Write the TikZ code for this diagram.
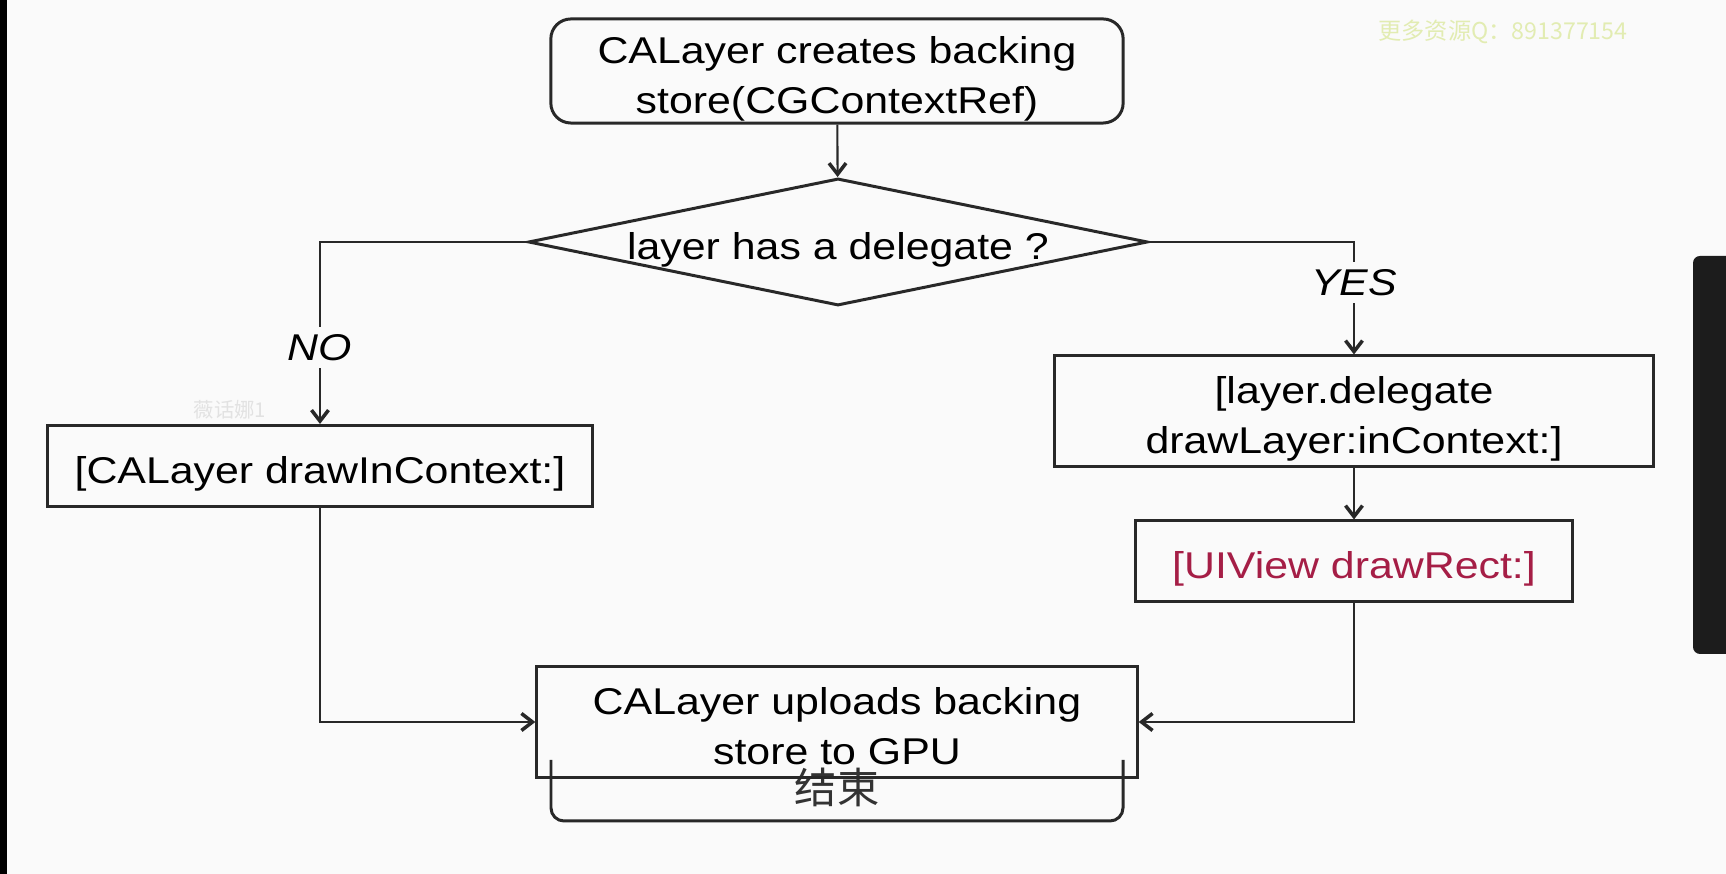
\documentclass[tikz,border=0pt]{standalone}
\usepackage{fontspec}
\usepackage{xcolor}
\usetikzlibrary{shapes.geometric,arrows.meta}
\setmainfont[FakeStretch=1.15]{Liberation Sans}
\newfontfamily\cjk{Noto Sans CJK SC}

\definecolor{bg}{RGB}{250,250,250}
\definecolor{linegrey}{RGB}{40,40,40}
\definecolor{methodred}{RGB}{165,30,70}
\definecolor{wmgreen}{RGB}{226,236,178}
\definecolor{wmgrey}{RGB}{226,226,226}
\definecolor{panel}{RGB}{28,28,28}

\tikzset{
  txt/.style={font=\fontsize{10.6}{14.2}\selectfont, align=center, text=black, text depth=0pt, text height=10.1pt},
  twolines/.style={text height=24.3pt},
  box/.style={txt, draw=linegrey, line width=0.85pt, inner sep=0pt},
  rbox/.style={box, rounded corners=0.2cm},
  decision/.style={txt, diamond, draw=linegrey, line width=0.85pt, inner sep=0pt, aspect=4.87},
  conn/.style={draw=linegrey, line width=0.6pt, -{Straight Barb[length=1.1mm,width=1.7mm,line width=1pt]}},
  answer/.style={font=\fontsize{10.6}{14.2}\selectfont\itshape, text=black, fill=bg, inner sep=2pt}
}

\begin{document}
\begin{tikzpicture}[x=0.01cm,y=-0.01cm]
  \useasboundingbox (0,0) rectangle (1726,874);
  % screen background
  \fill[bg] (0,0) rectangle (1726,874);
  \fill[black] (0,0) rectangle (7,874);
  \fill[panel, rounded corners=0.07cm] (1693,256) rectangle (1740,654);

  % watermarks
  \node[font=\cjk\fontsize{6.6}{8}\selectfont, text=wmgreen] (wmq) at (1503,32) {更多资源Q：891377154};
  \node[font=\cjk\fontsize{5.8}{7}\selectfont, text=wmgrey] (wmname) at (230,410) {薇话娜1};

  % end box, mostly hidden behind the upload step
  \draw[linegrey, line width=0.85pt, rounded corners=0.13cm] (551,760) -- (551,821) -- (1123,821) -- (1123,760);
  \node[font=\cjk\fontsize{12}{14}\selectfont, text=black!80] (finish) at (837,787) {结束};

  % steps
  \node[rbox, twolines, minimum width=5.72cm, minimum height=1.04cm] (start) at (837,71) {CALayer creates backing\\store(CGContextRef)};
  \node[decision, minimum width=6.19cm, minimum height=1.27cm] (dec) at (838,242) {layer has a delegate ?};
  \node[box, minimum width=5.44cm, minimum height=0.81cm] (ctx) at (320,466) {[CALayer drawInContext:]};
  \node[box, twolines, minimum width=5.98cm, minimum height=1.10cm] (dlg) at (1354,411) {[layer.delegate\\drawLayer:inContext:]};
  \node[box, minimum width=4.36cm, minimum height=0.80cm, text=methodred] (uiv) at (1354,561) {[UIView drawRect:]};
  \node[box, twolines, minimum width=6.00cm, minimum height=1.10cm] (upload) at (837,722) {CALayer uploads backing\\store to GPU};

  % connectors
  \draw[conn] (start) -- (dec);
  \draw[conn] (dec.west) -| node[answer, pos=0.79] (no) {NO} (ctx.north);
  \draw[conn] (dec.east) -| node[answer, pos=0.68] (yes) {YES} (dlg.north);
  \draw[conn] (dlg) -- (uiv);
  \draw[conn] (ctx.south) |- (upload.west);
  \draw[conn] (uiv.south) |- (upload.east);
\end{tikzpicture}
\end{document}
